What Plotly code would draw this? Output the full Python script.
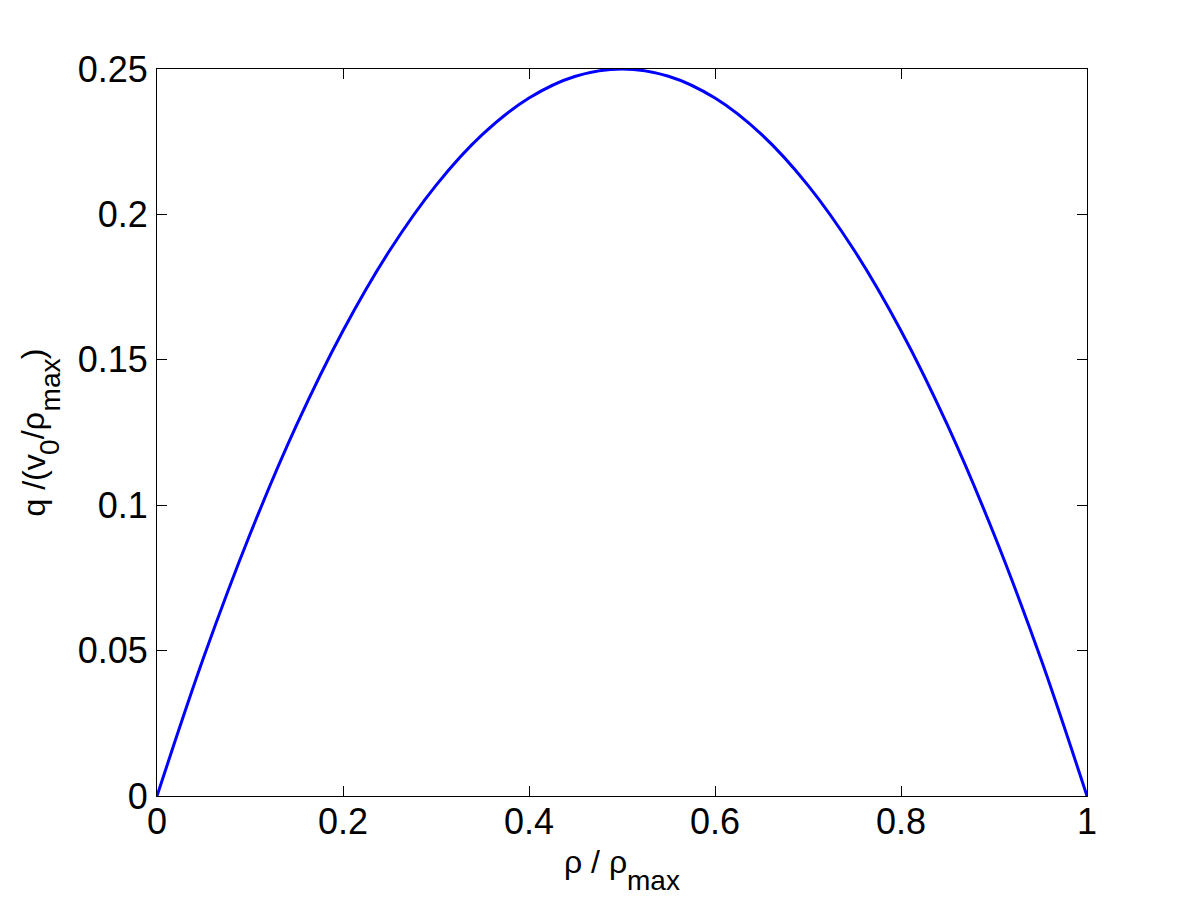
import plotly.graph_objects as go

# density ratio rho/rho_max
rho = [0.0, 0.05, 0.1, 0.15, 0.2, 0.25, 0.3, 0.35, 0.4, 0.45, 0.5,
       0.55, 0.6, 0.65, 0.7, 0.75, 0.8, 0.85, 0.9, 0.95, 1.0]
# normalized flow q/(v0/rho_max)
flow = [0.0, 0.0475, 0.09, 0.1275, 0.16, 0.1875, 0.21, 0.2275, 0.24, 0.2475, 0.25,
        0.2475, 0.24, 0.2275, 0.21, 0.1875, 0.16, 0.1275, 0.09, 0.0475, 0.0]

x_ticks = [0, 0.2, 0.4, 0.6, 0.8, 1]
x_labels = ["0", "0.2", "0.4", "0.6", "0.8", "1"]
y_ticks = [0, 0.05, 0.1, 0.15, 0.2, 0.25]
y_labels = ["0", "0.05", "0.1", "0.15", "0.2", "0.25"]

# axis titles as (text, is_subscript) pieces
x_title = [("ρ / ρ", False), ("max", True)]
y_title = [("q /(v", False), ("0", True), ("/ρ", False), ("max", True), (")", False)]

FONT = "Liberation Sans, Arial, sans-serif"
MAIN_SIZE, SUB_SIZE = 32, 28

# plot box in window pixels (body has an 8px offset, compensated by margins)
PX0, PX1, PY0, PY1 = 157, 1087, 69, 796

# approximate Arial advance widths (em) to lay out title pieces
W = {"q": .556, " ": .278, "/": .278, "(": .333, ")": .333, "v": .5, "0": .556,
     "m": .833, "a": .556, "x": .5, "ρ": .578}


def text_w(s, size):
    return sum(W.get(c, .556) for c in s) * size


def px2paper(px, py):
    return (px - PX0) / (PX1 - PX0), (PY1 - py) / (PY1 - PY0)


fig = go.Figure()
fig.add_trace(go.Scatter(x=rho, y=flow, mode="lines",
                         line=dict(color="#0000ff", width=3, shape="spline"),
                         showlegend=False, hoverinfo="skip"))

axis_common = dict(
    showgrid=False, zeroline=False, showline=True, linecolor="black", linewidth=1,
    mirror="ticks", ticks="inside", ticklen=10, tickwidth=1, tickcolor="black",
    tickfont=dict(family=FONT, size=36, color="black"),
)
fig.update_xaxes(range=[0, 1], tickvals=x_ticks, ticktext=x_labels,
                 ticklabelstandoff=-6, **axis_common)
fig.update_yaxes(range=[0, 0.25], tickvals=y_ticks, ticktext=y_labels,
                 ticklabelstandoff=1, **axis_common)

annotations = []

# x title: baseline of main text ~873px, subscript baseline ~890px
widths = [text_w(t, SUB_SIZE if s else MAIN_SIZE) for t, s in x_title]
cx = (PX0 + PX1) / 2 - sum(widths) / 2
for (t, s), w in zip(x_title, widths):
    size = SUB_SIZE if s else MAIN_SIZE
    base = 890 if s else 873
    xp, yp = px2paper(cx + w / 2, base - 0.35 * size)
    annotations.append(dict(text=t, x=xp, y=yp, xref="paper", yref="paper",
                            xanchor="center", yanchor="middle", showarrow=False,
                            font=dict(family=FONT, size=size, color="black")))
    cx += w

# y title (rotated, reading upwards): main baseline ~x=45px, subscript ~x=60px
widths = [text_w(t, SUB_SIZE if s else MAIN_SIZE) for t, s in y_title]
cy = (PY0 + PY1) / 2 + sum(widths) / 2
for (t, s), w in zip(y_title, widths):
    size = SUB_SIZE if s else MAIN_SIZE
    base = 60 if s else 45
    xp, yp = px2paper(base - 0.35 * size, cy - w / 2)
    annotations.append(dict(text=t, x=xp, y=yp, xref="paper", yref="paper",
                            xanchor="center", yanchor="middle", textangle=-90,
                            showarrow=False,
                            font=dict(family=FONT, size=size, color="black")))
    cy -= w

fig.update_layout(
    width=1201, height=901,
    margin=dict(l=149, r=122, t=61, b=113, autoexpand=False),
    paper_bgcolor="white", plot_bgcolor="white",
    annotations=annotations,
)

fig.write_html("out.html")
